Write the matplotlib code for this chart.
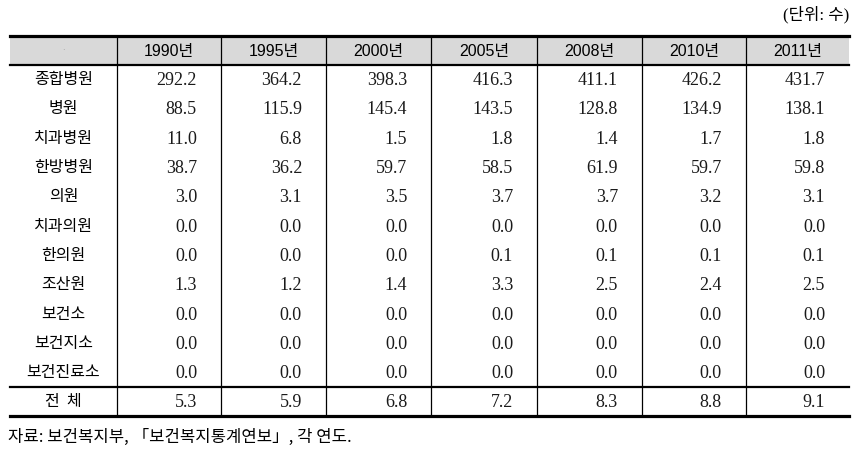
import matplotlib.pyplot as plt
from matplotlib.patches import Rectangle

years = ["1990년", "1995년", "2000년", "2005년", "2008년", "2010년", "2011년"]
labels = ["종합병원", "병원", "치과병원", "한방병원", "의원", "치과의원",
          "한의원", "조산원", "보건소", "보건지소", "보건진료소", "전  체"]
v1990 = [292.2, 88.5, 11.0, 38.7, 3.0, 0.0, 0.0, 1.3, 0.0, 0.0, 0.0, 5.3]
v1995 = [364.2, 115.9, 6.8, 36.2, 3.1, 0.0, 0.0, 1.2, 0.0, 0.0, 0.0, 5.9]
v2000 = [398.3, 145.4, 1.5, 59.7, 3.5, 0.0, 0.0, 1.4, 0.0, 0.0, 0.0, 6.8]
v2005 = [416.3, 143.5, 1.8, 58.5, 3.7, 0.0, 0.1, 3.3, 0.0, 0.0, 0.0, 7.2]
v2008 = [411.1, 128.8, 1.4, 61.9, 3.7, 0.0, 0.1, 2.5, 0.0, 0.0, 0.0, 8.3]
v2010 = [426.2, 134.9, 1.7, 59.7, 3.2, 0.0, 0.1, 2.4, 0.0, 0.0, 0.0, 8.8]
v2011 = [431.7, 138.1, 1.8, 59.8, 3.1, 0.0, 0.1, 2.5, 0.0, 0.0, 0.0, 9.1]
columns = [v1990, v1995, v2000, v2005, v2008, v2010, v2011]

KR = ["Noto Sans CJK KR", "DejaVu Sans"]
HEAD = ["Liberation Sans", "Noto Sans CJK KR"]
NUM = ["Liberation Serif"]

fig = plt.figure(figsize=(8.58, 4.55), dpi=100)
ax = fig.add_axes([0, 0, 1, 1])
ax.set_xlim(0, 858)
ax.set_ylim(455, 0)
ax.axis("off")

col_x = [10, 117, 221, 326, 431, 537, 642, 746, 849]
top, head_bot = 36, 65
row_h = 29.3
sep_y = head_bot + row_h * 11
bot = sep_y + 28.5

# header background
ax.add_patch(Rectangle((col_x[0], top), col_x[-1] - col_x[0], head_bot - top,
                       facecolor="#d9d9d9", edgecolor="none", zorder=0))

# horizontal rules
ax.plot([col_x[0], col_x[-1]], [top, top], color="black", lw=2.3)
ax.plot([col_x[0], col_x[-1]], [head_bot, head_bot], color="black", lw=1.6)
ax.plot([col_x[0], col_x[-1]], [sep_y, sep_y], color="black", lw=1.6)
ax.plot([col_x[0], col_x[-1]], [bot, bot], color="black", lw=2.3)
# vertical rules
for x in col_x[1:-1]:
    ax.plot([x, x], [top, bot], color="black", lw=0.9)

# header
ax.text((col_x[0] + col_x[1]) / 2, (top + head_bot) / 2, "·", ha="center",
        va="center", fontsize=6, color="#999999")
for i, y in enumerate(years):
    ax.text((col_x[i + 1] + col_x[i + 2]) / 2, (top + head_bot) / 2 + 1, y,
            ha="center", va="center", fontsize=11.5, family=HEAD)

# body
for r, lab in enumerate(labels):
    if r < 11:
        cy = head_bot + row_h * (r + 0.5)
    else:
        cy = (sep_y + bot) / 2
    ax.text((col_x[0] + col_x[1]) / 2, cy, lab, ha="center", va="center",
            fontsize=11.5, family=KR)
    for c, vals in enumerate(columns):
        ax.text(col_x[c + 2] - 24, cy + 1, f"{vals[r]:.1f}", ha="right",
                va="center", fontsize=13, family=NUM, color="#1a1a1a")

ax.text(849, 15, "(단위: 수)", ha="right", va="center", fontsize=12,
        family=["Liberation Serif", "Noto Sans CJK KR"])
ax.text(8, 437, "자료: 보건복지부, 「보건복지통계연보」, 각 연도.", ha="left",
        va="center", fontsize=12, family=KR)

fig.savefig("out.png", dpi=100)
